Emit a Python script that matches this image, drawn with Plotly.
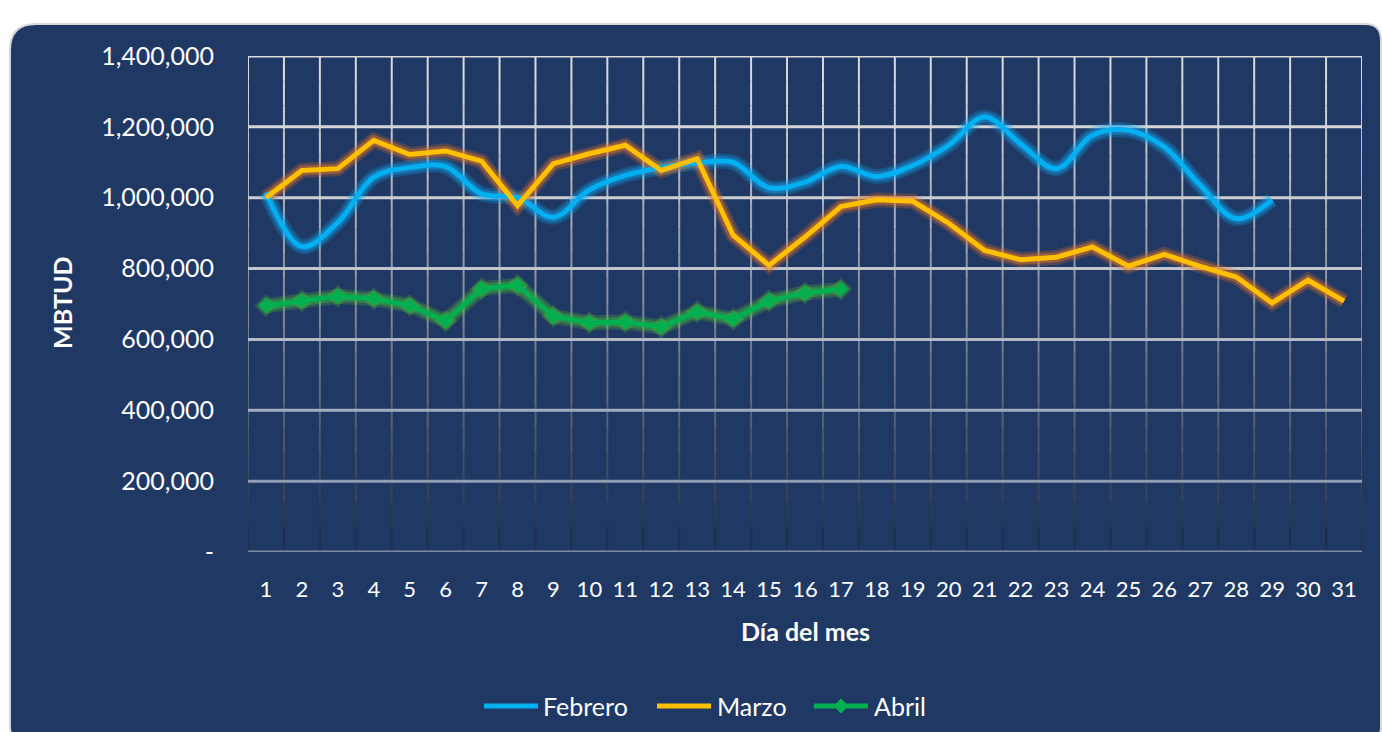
import plotly.graph_objects as go

# ---------------- data ----------------
dias = list(range(1, 32))
dias_labels = [str(d) for d in dias]

febrero = [1015000, 862000, 930000, 1058000, 1085000, 1088000, 1011000, 1000000,
           945000, 1022000, 1063000, 1085000, 1098000, 1100000, 1028000, 1044000,
           1088000, 1060000, 1091000, 1148000, 1228000, 1152000, 1082000, 1176000,
           1190000, 1143000, 1035000, 941000, 994000]
marzo = [1000000, 1077000, 1082000, 1162000, 1122000, 1132000, 1103000, 978000,
         1096000, 1124000, 1148000, 1077000, 1110000, 894000, 809000, 889000,
         975000, 994000, 990000, 928000, 851000, 825000, 832000, 861000,
         807000, 840000, 806000, 776000, 703000, 767000, 708000]
abril = [695000, 709000, 722000, 715000, 696000, 652000, 743000, 753000,
         665000, 647000, 649000, 635000, 678000, 657000, 709000, 731000, 742000]

series_names = ["Febrero", "Marzo", "Abril"]

y_ticks = [0, 200000, 400000, 600000, 800000, 1000000, 1200000, 1400000]
y_ticktext = ["-", "200,000", "400,000", "600,000", "800,000",
              "1,000,000", "1,200,000", "1,400,000"]

# ---------------- layout constants ----------------
W, H = 1382, 732
ML, MR, MT, MB = 248, 20, 56, 180
PW, PH = W - ML - MR, H - MT - MB
NAVY = "rgb(32,56,100)"
FONT = "Lato"

def px2paper_x(X):
    return (X - ML) / PW

def px2paper_y(Y):
    return (H - MB - Y) / PH

fig = go.Figure()

colors = ["rgb(0,176,240)", "rgb(255,192,0)", "rgb(0,176,80)"]
glow1 = ["rgba(0,176,240,0.25)", "rgba(230,110,30,0.25)", "rgba(90,210,40,0.22)"]
glow2 = ["rgba(30,160,240,0.38)", "rgba(225,120,40,0.45)", "rgba(60,190,60,0.38)"]
shapes_line = ["spline", "linear", "linear"]
markers_on = [False, False, True]
values = [febrero, marzo, abril]

for k in range(3):
    ys = values[k]
    xs = dias[:len(ys)]
    mk = markers_on[k]
    for gc, gw, ms in ((glow1[k], 15, 18), (glow2[k], 10, 14)):
        fig.add_trace(go.Scatter(
            x=xs, y=ys, mode="lines+markers" if mk else "lines",
            line=dict(color=gc, width=gw, shape=shapes_line[k], smoothing=1.0),
            marker=dict(symbol="diamond", size=ms, color=gc) if mk else None,
            showlegend=False, hoverinfo="skip"))
for k in range(3):
    ys = values[k]
    xs = dias[:len(ys)]
    mk = markers_on[k]
    fig.add_trace(go.Scatter(
        x=xs, y=ys, name=series_names[k], mode="lines+markers" if mk else "lines",
        line=dict(color=colors[k], width=5, shape=shapes_line[k], smoothing=1.0),
        marker=dict(symbol="diamond", size=11, color=colors[k]) if mk else None,
        showlegend=False))

shapes = []
# background rounded panel
X0, Y0, X1, Y1 = 10, 24, 1381, 736
r_tl, r_tr, r_b = 26, 16, 8
def P(X, Y):
    return f"{px2paper_x(X):.5f},{px2paper_y(Y):.5f}"
path = (f"M {P(X0, Y0 + r_tl)} Q {P(X0, Y0)} {P(X0 + r_tl, Y0)} "
        f"L {P(X1 - r_tr, Y0)} Q {P(X1, Y0)} {P(X1, Y0 + r_tr)} "
        f"L {P(X1, Y1 - r_b)} Q {P(X1, Y1)} {P(X1 - r_b, Y1)} "
        f"L {P(X0 + r_b, Y1)} Q {P(X0, Y1)} {P(X0, Y1 - r_b)} Z")
shapes.append(dict(type="path", path=path, xref="paper", yref="paper",
                   fillcolor=NAVY, line=dict(color="rgb(215,215,215)", width=2),
                   layer="below"))

# vertical gridlines with a fading gradient (top light -> bottom dark)
ymax = 1400000
top_c = (222, 222, 222)
bot_c = (30, 42, 70)
NSEG = 20
for b in range(0, 32):
    xb = b + 0.5
    for s in range(NSEG):
        t = (s + 0.5) / NSEG  # 0 at top
        c = tuple(int(top_c[i] + (bot_c[i] - top_c[i]) * t ** 1.1) for i in range(3))
        ya = ymax * (1 - s / NSEG)
        yb = ymax * (1 - (s + 1) / NSEG)
        shapes.append(dict(type="line", xref="x", yref="y", x0=xb, x1=xb, y0=ya, y1=yb,
                           line=dict(color=f"rgb{c}", width=2), layer="below"))

# horizontal gridlines, slightly darker towards the bottom
h_top = (218, 218, 218)
h_bot = (125, 140, 168)
for v in y_ticks:
    t = 1 - v / ymax
    c = tuple(int(h_top[i] + (h_bot[i] - h_top[i]) * t ** 1.6) for i in range(3))
    shapes.append(dict(type="line", xref="x", yref="y", x0=0.5, x1=31.5, y0=v, y1=v,
                       line=dict(color=f"rgb{c}", width=3), layer="below"))

annotations = [
    dict(text="<b>Día del mes</b>", x=0.5, y=px2paper_y(631), xref="paper", yref="paper",
         showarrow=False, font=dict(family=FONT, size=25, color="white"),
         xanchor="center", yanchor="middle"),
    dict(text="<b>MBTUD</b>", x=px2paper_x(62), y=px2paper_y(303), xref="paper", yref="paper",
         showarrow=False, textangle=-90, font=dict(family=FONT, size=25, color="white"),
         xanchor="center", yanchor="middle"),
]

# legend (drawn as line samples + text)
leg_y = 706
leg_lines = [(484, 538), (657, 711), (814, 868)]
leg_text_x = [541, 715, 872]
for k in range(3):
    xa, xb = leg_lines[k]
    shapes.append(dict(type="line", xref="paper", yref="paper",
                       x0=px2paper_x(xa), x1=px2paper_x(xb),
                       y0=px2paper_y(leg_y), y1=px2paper_y(leg_y),
                       line=dict(color=colors[k], width=5), layer="above"))
    if markers_on[k]:
        cx = (xa + xb) / 2
        d = 7
        dpath = (f"M {P(cx, leg_y - d)} L {P(cx + d, leg_y)} L {P(cx, leg_y + d)} "
                 f"L {P(cx - d, leg_y)} Z")
        shapes.append(dict(type="path", path=dpath, xref="paper", yref="paper",
                           fillcolor=colors[k], line=dict(color=colors[k], width=1),
                           layer="above"))
    annotations.append(dict(text=series_names[k], x=px2paper_x(leg_text_x[k]),
                            y=px2paper_y(leg_y), xref="paper", yref="paper",
                            showarrow=False, xanchor="left", yanchor="middle",
                            font=dict(family=FONT, size=25, color="white")))

fig.update_layout(
    width=W, height=H,
    margin=dict(l=ML, r=MR, t=MT, b=MB),
    paper_bgcolor="white",
    plot_bgcolor="rgba(0,0,0,0)",
    font=dict(family=FONT, color="white"),
    shapes=shapes,
    annotations=annotations,
    showlegend=False,
    xaxis=dict(range=[0.5, 31.5], tickmode="array", tickvals=dias, ticktext=dias_labels,
               showgrid=False, zeroline=False, showline=False, ticks="",
               tickfont=dict(family=FONT, size=22, color="white"),
               ticklabelstandoff=22, fixedrange=True),
    yaxis=dict(range=[0, ymax], tickmode="array", tickvals=y_ticks, ticktext=y_ticktext,
               showgrid=False, zeroline=False, showline=False, ticks="",
               tickfont=dict(family=FONT, size=25, color="white"),
               ticklabelstandoff=33, fixedrange=True),
)

fig.write_html("out.html", config={"displayModeBar": False},
               post_script="document.body.style.margin='0';document.body.style.overflow='hidden';")
